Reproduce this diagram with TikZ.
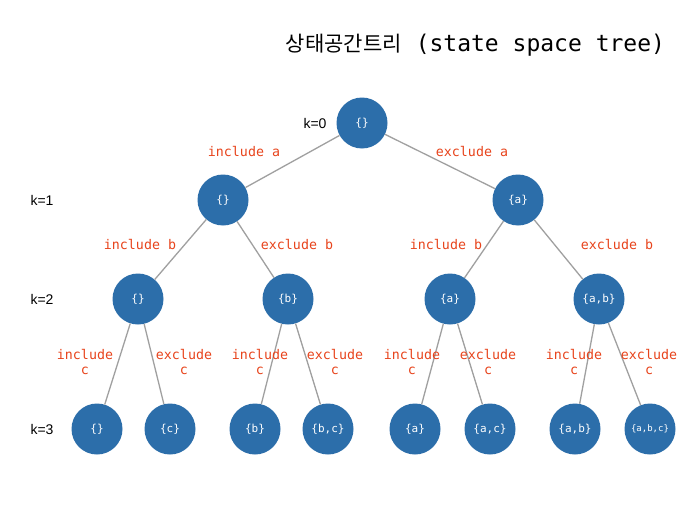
\documentclass[tikz,border=0pt]{standalone}
\usepackage{fontspec}
\setmainfont{Liberation Sans}
\newfontfamily\monofont{DejaVu Sans Mono}
\newfontfamily\kofont{Noto Sans CJK KR}
\definecolor{nodeblue}{RGB}{44,110,170}
\definecolor{lblred}{RGB}{232,68,28}
\definecolor{edgegray}{RGB}{160,160,160}
\begin{document}
\begin{tikzpicture}[x=1pt,y=-1pt,
  st/.style={circle, fill=nodeblue, minimum size=51pt, inner sep=0pt, text=white, font=\monofont\fontsize{11}{13}\selectfont},
  lbl/.style={text=lblred, font=\monofont\fontsize{13.3}{15}\selectfont, align=center, inner sep=0pt},
  lvl/.style={font=\fontsize{14}{15}\selectfont, inner sep=0pt},
  edgeline/.style={draw=edgegray, line width=1.3pt}]
\useasboundingbox[fill=white] (0,0) rectangle (694,506);
% title
\node[inner sep=0pt] (title) at (475.5,45) {{\kofont\fontsize{21}{24}\selectfont 상태공간트리}\monofont\fontsize{23}{24}\selectfont\ (state space tree)};
% nodes
\node[st] (r) at (362,123) {\{\}};
\node[st] (n1) at (223,200) {\{\}};
\node[st] (n2) at (518,200) {\{a\}};
\node[st] (n11) at (138,299) {\{\}};
\node[st] (n12) at (288,299) {\{b\}};
\node[st] (n21) at (450,299) {\{a\}};
\node[st] (n22) at (599,299) {\{a,b\}};
\node[st] (m1) at (97,429) {\{\}};
\node[st] (m2) at (170,429) {\{c\}};
\node[st] (m3) at (255,429) {\{b\}};
\node[st] (m4) at (328,429) {\{b,c\}};
\node[st] (m5) at (415,429) {\{a\}};
\node[st] (m6) at (490,429) {\{a,c\}};
\node[st] (m7) at (575,429) {\{a,b\}};
\node[st, font=\monofont\fontsize{9}{11}\selectfont] (m8) at (650,429) {\{a,b,c\}};
% edges
\draw[edgeline] (r) -- (n1);
\draw[edgeline] (r) -- (n2);
\draw[edgeline] (n1) -- (n11);
\draw[edgeline] (n1) -- (n12);
\draw[edgeline] (n2) -- (n21);
\draw[edgeline] (n2) -- (n22);
\draw[edgeline] (n11) -- (m1);
\draw[edgeline] (n11) -- (m2);
\draw[edgeline] (n12) -- (m3);
\draw[edgeline] (n12) -- (m4);
\draw[edgeline] (n21) -- (m5);
\draw[edgeline] (n21) -- (m6);
\draw[edgeline] (n22) -- (m7);
\draw[edgeline] (n22) -- (m8);
% level labels
\node[lvl] (k0) at (315,123) {k=0};
\node[lvl] (k1) at (42,200) {k=1};
\node[lvl] (k2) at (42,299) {k=2};
\node[lvl] (k3) at (42,429) {k=3};
% edge labels
\node[lbl] (la) at (244,152) {include a};
\node[lbl] (lb) at (472,152) {exclude a};
\node[lbl] (lc) at (140,245) {include b};
\node[lbl] (ld) at (297,245) {exclude b};
\node[lbl] (le) at (446,245) {include b};
\node[lbl] (lf) at (617,245) {exclude b};
\node[lbl] (lg) at (85,362) {include\\c};
\node[lbl] (lh) at (184,362) {exclude\\c};
\node[lbl] (li) at (260,362) {include\\c};
\node[lbl] (lj) at (335,362) {exclude\\c};
\node[lbl] (lk) at (412,362) {include\\c};
\node[lbl] (ll) at (488,362) {exclude\\c};
\node[lbl] (lm) at (574,362) {include\\c};
\node[lbl] (ln) at (649,362) {exclude\\c};
\end{tikzpicture}
\end{document}
